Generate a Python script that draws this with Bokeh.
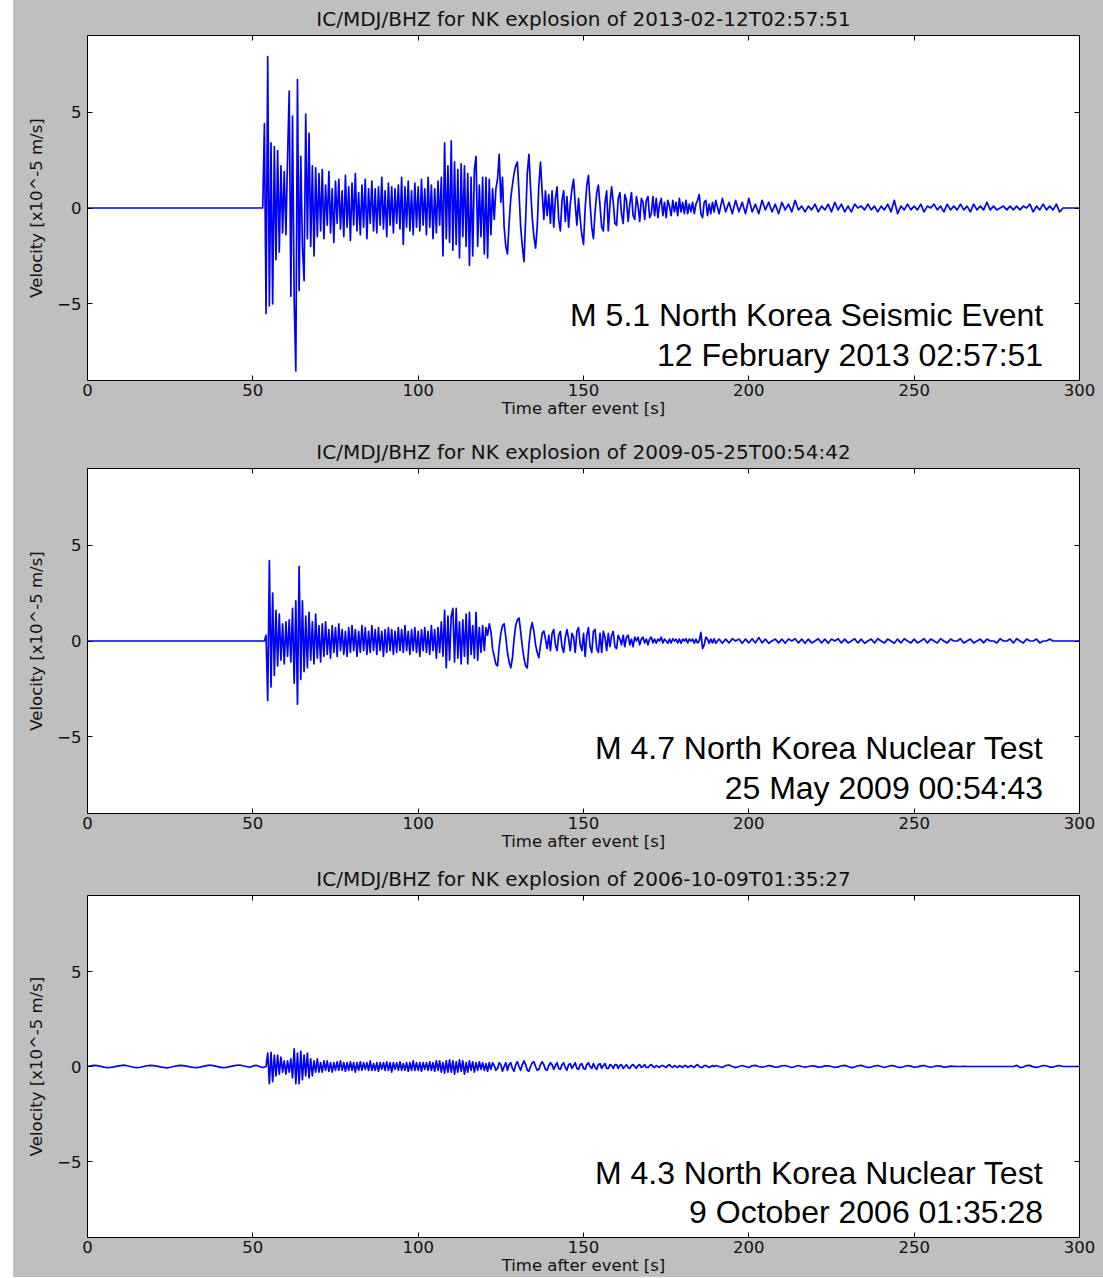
import numpy as np
from bokeh.plotting import figure
from bokeh.models import Range1d, LinearAxis, FixedTicker, Label, Spacer
from bokeh.layouts import row, column
from bokeh.embed import file_html
from bokeh.resources import INLINE

# ---------------- data (velocity, x10^-5 m/s) ----------------
X_TICKS = [0, 50, 100, 150, 200, 250, 300]
Y_TICKS = [-5, 0, 5]

TITLES = ["IC/MDJ/BHZ for NK explosion of 2013-02-12T02:57:51",
          "IC/MDJ/BHZ for NK explosion of 2009-05-25T00:54:42",
          "IC/MDJ/BHZ for NK explosion of 2006-10-09T01:35:27"]
NOTE_1 = ["M 5.1 North Korea Seismic Event", "M 4.7 North Korea Nuclear Test",
          "M 4.3 North Korea Nuclear Test"]
NOTE_2 = ["12 February 2013 02:57:51", "25 May 2009 00:54:43", "9 October 2006 01:35:28"]

# pre-event samples (0 s .. 50 s)
P1_PRE_DT = 5.0
P1_PRE = [0.0, 0.0, 0.0, 0.0, 0.0, 0.0, 0.0, 0.0, 0.0, 0.0]
P2_PRE_DT = 5.0
P2_PRE = [0.0, 0.0, 0.0, 0.0, 0.0, 0.0, 0.0, 0.0, 0.0, 0.0]
P3_PRE_DT = 1.0
P3_PRE = [0.0, 0.03, 0.06, 0.05, 0.01, -0.03, -0.06, -0.05, -0.02, 0.02,
          0.05, 0.07, 0.04, 0.0, -0.04, -0.06, -0.04, 0.0, 0.04, 0.06,
          0.05, 0.02, -0.02, -0.05, -0.07, -0.04, 0.0, 0.03, 0.06, 0.05,
          0.02, -0.02, -0.05, -0.06, -0.03, 0.01, 0.05, 0.07, 0.05, 0.01,
          -0.03, -0.06, -0.05, -0.01, 0.03, 0.06, 0.08, 0.04, 0.0, -0.04]

# main signal, 0.5 s samples from 50.0 s to 189.5 s (one row = 10 s)
P1_MAIN = [
    0.0, 0.0, 0.0, 0.0, 0.0, 0.0, 0.0, 4.4, -5.5, 7.9, -5.1, 3.4, -5.0, 3.2, -2.7, 3.0, -2.3, 2.2, -1.3, 1.9,
    -1.4, 2.6, 6.1, -4.6, 4.8, -4.8, -8.5, 6.7, -4.3, 2.7, -2.0, -3.8, 4.9, -1.6, 3.9, -2.0, 2.2, -2.5, 2.1, -1.5,
    1.8, -1.2, 2.0, -1.6, 1.2, -0.9, 1.9, -1.3, 1.0, -1.8, 1.4, -0.8, 1.5, -1.1, 0.9, -1.5, 1.7, -1.0, 1.1, -1.7,
    1.3, -0.9, 1.8, -1.2, 0.8, -1.4, 1.2, -1.0, 1.5, -1.6, 1.0, -0.8, 1.4, -1.2, 1.0, -1.3, 1.1, -0.9, 1.6, -1.1,
    0.9, -1.5, 1.3, -0.9, 1.1, -1.3, 1.0, -0.8, 1.2, -1.1, 1.6, -1.9, 1.1, -1.0, 1.4, -1.2, 0.9, -1.4, 1.3, -1.0,
    1.1, -1.2, 1.5, -0.9, 1.0, -1.4, 1.6, -1.0, 1.2, -1.6, 1.0, -1.3, 1.4, -0.9, 1.6, -2.5, 3.4, -1.6, 2.2, -1.8,
    3.5, -2.2, 2.4, -1.9, 2.0, -2.6, 2.3, -1.5, 2.2, -2.0, 1.8, -3.0, 1.6, -2.5, 2.0, 2.7, -2.0, 1.2, -1.5, 1.6,
    -2.4, 1.6, -2.6, 1.5, -1.4, 1.0, -0.6, 1.0, 1.5, 2.8, 0.3, 1.6, -1.0, -2.0, -2.4, -0.8, 0.5, 1.2, 1.8, 2.2,
    2.4, 0.8, -1.0, -2.0, -2.8, -0.6, 1.8, 2.8, 1.0, -0.5, -1.5, -2.1, -1.0, 1.2, 2.4, 0.8, -0.6, 0.9, -0.4, 0.7,
    -0.8, 0.9, -1.0, 0.5, 1.1, -0.6, -1.2, 0.4, 0.9, -0.7, 0.6, -1.0, 0.2, 1.0, 1.5, 0.2, -0.9, 0.5, -0.6, -1.4,
    -1.9, 0.0, 1.2, 1.7, 0.2, -1.0, -1.6, -0.2, 0.8, 1.2, 0.1, -1.0, -1.2, 0.3, 0.9, -1.2, 0.2, 1.1, 0.3, -0.8,
    -0.9, 0.5, 0.8, -0.3, -0.8, 0.7, 0.4, -0.7, 0.2, 0.8, -0.4, -0.6, 0.6, 0.1, -0.7, 0.5, 0.3, -0.6, 0.4, 0.6,
    -0.5, -0.3, 0.6, -0.4, 0.5, -0.5, 0.2, 0.5, -0.4, 0.3, -0.5, 0.4, 0.1, -0.4, 0.4, -0.2, 0.3, -0.4, 0.5, -0.2,
    0.3, -0.3, 0.4, -0.3, 0.2, -0.2, 0.3, -0.3, 0.2, 0.4, 0.7, -0.3, -0.5, 0.3, 0.4, -0.4, 0.2, -0.3, 0.3, -0.2,
]
P2_MAIN = [
    0.0, 0.0, 0.0, 0.0, 0.0, 0.0, 0.0, 0.0, 0.3, -3.1, 4.2, -2.4, 2.5, -1.8, 1.6, -1.3, 1.4, -1.0, 0.9, -1.2,
    1.0, -0.8, 1.1, -1.1, 1.7, -2.2, 2.1, -3.3, 3.9, -2.0, 2.1, -1.6, 1.3, -1.4, 1.5, -1.0, 1.0, -1.2, 1.4, -0.9,
    0.8, -1.1, 0.9, -0.8, 1.0, -0.7, 0.6, -0.9, 0.8, -0.6, 0.7, -0.8, 0.9, -0.5, 0.6, -0.7, 0.5, -0.8, 0.7, -0.6,
    0.8, -0.5, 0.6, -0.8, 0.5, -0.6, 0.8, -0.5, 0.7, -0.7, 0.5, -0.6, 0.8, -0.5, 0.6, -0.7, 0.7, -0.5, 0.5, -0.8,
    0.6, -0.6, 0.7, -0.5, 0.6, -0.7, 0.5, -0.6, 0.7, -0.5, 0.6, -0.6, 0.8, -0.5, 0.5, -0.7, 0.6, -0.5, 0.7, -0.6,
    0.5, -0.8, 0.6, -0.5, 0.7, -0.6, 0.5, -0.7, 0.8, -0.5, 0.6, -0.9, 0.7, -0.6, 1.0, -0.8, 1.6, -1.4, 1.3, -1.0,
    1.3, 1.7, -1.1, 1.7, -0.9, 1.0, -1.2, 1.1, -0.8, 1.4, -1.2, 1.5, -0.7, 0.8, -0.9, 1.5, -1.0, 0.7, -0.6, 0.8,
    -0.5, 0.7, 0.3, 0.9, 0.5, -0.4, -0.8, -1.2, -1.3, -0.3, 0.4, 0.8, 0.9, 0.2, -0.6, -1.1, -1.4, -0.9, 0.1, 0.8,
    1.1, 1.2, 0.5, -0.3, -0.9, -1.3, -1.4, -0.2, 0.6, 0.96, 0.5, -0.2, -0.6, -0.87, -0.2, 0.4, 0.52, 0.1, -0.4, 0.3,
    -0.5, 0.4, 0.6, -0.2, -0.5, 0.3, 0.5, -0.3, -0.6, 0.2, 0.6, 0.1, -0.5, 0.4, 0.2, -0.6, 0.5, 0.7, -0.2, -0.5,
    0.4, -0.8, 0.3, 0.7, -0.3, -0.6, 0.5, 0.6, -0.4, -0.6, 0.4, -0.6, 0.5, 0.2, -0.5, 0.4, -0.3, 0.3, 0.5, -0.3,
    -0.4, 0.3, 0.1, -0.2, 0.3, -0.3, 0.2, 0.3, -0.2, 0.1, -0.3, 0.2, 0.0, 0.2, -0.2, 0.1, 0.2, -0.1, 0.1, -0.2,
    0.1, 0.2, -0.1, 0.1, -0.12, 0.1, 0.0, 0.2, -0.1, 0.1, 0.0, -0.12, 0.1, -0.1, 0.12, 0.0, 0.1, -0.1, 0.1, -0.12,
    0.1, 0.0, 0.12, -0.1, 0.1, 0.0, 0.1, -0.12, 0.1, -0.1, 0.0, 0.45, -0.4, -0.2, 0.2, 0.1, -0.12, 0.1, -0.1, 0.12,
]
P3_MAIN = [
    0.02, 0.05, 0.06, 0.04, 0.0, -0.03, -0.05, -0.03, 0.0, 0.7, -0.9, 0.75, -0.8, 0.6, -0.5, 0.6, -0.4, 0.5, -0.3, 0.3,
    -0.4, 0.3, -0.3, 0.4, -0.6, 0.93, -0.9, 0.7, -0.9, 0.8, -0.7, 0.6, -0.5, 0.7, -0.6, 0.4, -0.5, 0.3, -0.3, 0.4,
    -0.3, 0.2, -0.3, 0.3, -0.2, 0.3, -0.25, 0.2, -0.3, 0.2, -0.2, 0.25, -0.2, 0.3, -0.2, 0.2, -0.25, 0.2, -0.2, 0.25,
    -0.2, 0.2, -0.3, 0.2, -0.2, 0.25, -0.2, 0.2, -0.15, 0.2, -0.2, 0.3, -0.2, 0.15, -0.2, 0.2, -0.25, 0.2, -0.15, 0.2,
    -0.2, 0.25, -0.2, 0.2, -0.3, 0.2, -0.15, 0.2, -0.2, 0.25, -0.2, 0.15, -0.2, 0.2, -0.25, 0.2, -0.2, 0.3, -0.2, 0.2,
    -0.2, 0.2, -0.25, 0.2, -0.15, 0.2, -0.2, 0.25, -0.2, 0.2, -0.25, 0.3, -0.2, 0.3, -0.3, 0.2, -0.35, 0.3, -0.3, 0.35,
    -0.3, 0.3, -0.4, 0.25, -0.3, 0.35, -0.25, 0.3, -0.4, 0.2, -0.3, 0.3, -0.2, 0.25, -0.3, 0.2, -0.2, 0.25, -0.15, 0.2,
    -0.2, 0.15, -0.25, 0.2, -0.15, 0.2, 0.05, -0.2, -0.1, 0.2, 0.1, -0.25, 0.0, 0.2, -0.2, 0.1, 0.2, -0.1, -0.25, 0.1,
    0.25, 0.0, -0.2, 0.1, 0.3, 0.1, -0.2, -0.25, 0.0, 0.2, 0.25, 0.0, -0.2, -0.15, 0.1, 0.25, 0.1, -0.15, -0.2, 0.05,
    0.2, 0.1, -0.15, 0.05, 0.2, -0.1, -0.15, 0.1, 0.2, -0.05, -0.2, 0.1, 0.15, -0.1, 0.05, 0.2, -0.1, -0.15, 0.1, 0.15,
    -0.1, -0.15, 0.1, 0.2, 0.0, -0.1, 0.15, -0.05, -0.15, 0.1, 0.15, -0.1, 0.05, 0.15, -0.1, -0.1, 0.1, 0.05, -0.1, 0.1,
    0.1, -0.1, 0.05, 0.1, -0.1, 0.0, 0.1, -0.05, -0.1, 0.05, 0.1, 0.0, -0.1, 0.05, 0.1, -0.05, 0.0, 0.1, -0.05, -0.05,
    0.05, 0.1, 0.0, -0.05, 0.05, 0.0, -0.05, 0.05, 0.05, 0.0, -0.05, 0.05, 0.1, 0.0, -0.05, 0.05, 0.0, -0.05, 0.05, 0.0,
    -0.05, 0.05, 0.05, -0.05, 0.0, 0.05, 0.0, -0.05, 0.05, 0.1, 0.0, -0.05, -0.05, 0.05, 0.05, 0.0, -0.05, 0.0, 0.05, 0.0,
]

# coda tail, 1 s samples from 190 s to 300 s
P1_TAIL = [
    0.4, -0.3, 0.5, -0.2, 0.3, -0.3, 0.4, -0.2, 0.3, -0.3,
    0.5, -0.2, 0.2, -0.3, 0.4, -0.1, 0.3, -0.2, 0.2, -0.3,
    0.3, -0.1, 0.2, -0.2, 0.4, -0.1, 0.1, -0.2, 0.1, -0.1,
    0.2, -0.2, 0.1, -0.1, 0.2, -0.2, 0.3, -0.1, 0.2, -0.2,
    0.1, -0.2, 0.2, 0.0, 0.1, -0.1, 0.2, -0.1, 0.1, -0.2,
    0.1, -0.1, 0.2, -0.2, 0.4, -0.3, 0.1, -0.1, 0.2, -0.1,
    0.1, -0.1, 0.2, -0.2, 0.1, 0.0, 0.2, -0.1, 0.1, -0.2,
    0.2, -0.1, 0.1, -0.1, 0.2, -0.1, 0.1, -0.2, 0.2, -0.1,
    0.1, -0.1, 0.3, -0.1, 0.1, -0.1, 0.0, 0.1, -0.1, 0.1,
    -0.1, 0.1, -0.1, 0.1, 0.0, 0.2, -0.2, 0.1, -0.1, 0.2,
    -0.1, 0.1, -0.1, 0.2, -0.2, 0.0, 0.0, 0.0, 0.0, 0.0,
    0.0,
]
P2_TAIL = [
    -0.12, 0.1, -0.12, 0.1, -0.1, 0.12, 0.0, 0.1, -0.12, 0.1,
    -0.1, 0.12, -0.1, 0.18, -0.1, 0.1, -0.12, 0.0, 0.1, -0.1,
    0.1, -0.12, 0.1, 0.0, 0.12, -0.1, 0.1, -0.12, 0.1, -0.1,
    0.0, 0.12, -0.1, 0.1, -0.12, 0.1, 0.0, 0.12, -0.1, 0.1,
    -0.1, 0.0, 0.12, -0.1, 0.1, -0.12, 0.0, 0.1, -0.1, 0.12,
    0.0, -0.1, 0.1, 0.0, -0.12, 0.1, -0.1, 0.12, 0.0, -0.1,
    0.1, -0.1, 0.0, 0.12, -0.1, 0.1, 0.0, -0.1, 0.12, 0.0,
    -0.1, 0.1, 0.0, 0.0, 0.12, -0.1, 0.0, 0.1, -0.1, 0.0,
    0.1, -0.1, 0.1, 0.0, 0.0, -0.1, 0.12, 0.0, 0.0, 0.1,
    -0.1, 0.12, 0.0, -0.1, 0.1, 0.0, 0.0, 0.1, -0.1, 0.0,
    0.0, 0.1, 0.0, 0.0, 0.0, 0.0, 0.0, 0.0, 0.0, 0.0,
    0.0,
]
P3_TAIL = [
    0.05, 0.0, -0.05, 0.05, 0.08, 0.0, -0.06, 0.0, 0.05, 0.0,
    -0.05, 0.04, 0.06, 0.0, -0.04, 0.0, 0.05, 0.02, -0.04, -0.02,
    0.04, 0.05, 0.0, -0.05, 0.0, 0.05, 0.0, -0.04, 0.0, 0.04,
    0.02, -0.03, -0.02, 0.03, 0.04, 0.0, -0.05, -0.02, 0.04, 0.06,
    0.0, -0.06, -0.03, 0.04, 0.06, 0.0, -0.05, -0.03, 0.03, 0.05,
    0.0, -0.05, 0.0, 0.05, 0.03, -0.03, -0.05, 0.0, 0.05, 0.02,
    -0.04, -0.02, 0.03, 0.05, 0.0, -0.04, 0.0, 0.04, 0.02, -0.03,
    -0.02, 0.02, 0.01, 0.0, 0.0, 0.01, 0.0, 0.0, 0.0, 0.0,
    0.0, 0.0, 0.0, 0.0, 0.0, 0.0, 0.0, 0.0, 0.0, 0.0,
    0.0, 0.06, -0.05, -0.03, 0.05, 0.06, -0.02, -0.05, 0.0, 0.05,
    0.04, -0.03, -0.03, 0.03, 0.05, 0.0, 0.0, 0.0, 0.0, 0.0,
    0.0,
]

MAIN_START, MAIN_DT = 50.0, 0.5
TAIL_START, TAIL_DT = 190.0, 1.0


def trace(pre, pre_dt, main, tail):
    t = np.concatenate([np.arange(len(pre)) * pre_dt,
                        MAIN_START + MAIN_DT * np.arange(len(main)),
                        TAIL_START + TAIL_DT * np.arange(len(tail))])
    v = np.concatenate([pre, main, tail])
    return t, v


TRACES = [trace(P1_PRE, P1_PRE_DT, P1_MAIN, P1_TAIL),
          trace(P2_PRE, P2_PRE_DT, P2_MAIN, P2_TAIL),
          trace(P3_PRE, P3_PRE_DT, P3_MAIN, P3_TAIL)]

GRAY = "#bfbfbf"
FONT = "DejaVu Sans"
INK = "#111111"


def mirror_axis(ticks):
    return LinearAxis(ticker=FixedTicker(ticks=ticks), axis_line_color=None,
                      major_tick_in=5, major_tick_out=0, minor_tick_line_color=None,
                      major_tick_line_color="black", major_label_text_font_size="1px",
                      major_label_text_color=None, major_label_standoff=0)


def panel(i, height, top, bottom):
    p = figure(width=1090, height=height, x_range=Range1d(0, 300), y_range=Range1d(-9, 9),
               output_backend="svg", toolbar_location=None,
               min_border_left=74, min_border_right=24, min_border_top=top, min_border_bottom=bottom,
               background_fill_color="white", border_fill_color=GRAY,
               outline_line_color="black", outline_line_width=1, title=TITLES[i])
    p.title.align = "center"
    p.title.text_font = FONT
    p.title.text_font_size = "20px"
    p.title.text_font_style = "normal"
    p.title.text_color = INK
    p.title.standoff = 9
    p.grid.visible = False

    for ax in (p.xaxis[0], p.yaxis[0]):
        ax.axis_line_color = None
        ax.major_tick_in = 5
        ax.major_tick_out = 0
        ax.major_tick_line_color = "black"
        ax.minor_tick_line_color = None
        ax.major_label_text_font = FONT
        ax.major_label_text_font_size = "16.5px"
        ax.major_label_text_color = INK
        ax.axis_label_text_font = FONT
        ax.axis_label_text_font_size = "16.5px"
        ax.axis_label_text_font_style = "normal"
        ax.axis_label_text_color = INK

    p.xaxis.ticker = FixedTicker(ticks=X_TICKS)
    p.xaxis.axis_label = "Time after event [s]"
    p.xaxis.major_label_standoff = 3
    p.xaxis.axis_label_standoff = 0

    p.yaxis.ticker = FixedTicker(ticks=Y_TICKS)
    p.yaxis.major_label_overrides = {-5: "\u22125"}
    p.yaxis.axis_label = "Velocity [x10^-5 m/s]"
    p.yaxis.major_label_standoff = 6
    p.yaxis.axis_label_standoff = 8

    p.add_layout(mirror_axis(X_TICKS), "above")
    p.add_layout(mirror_axis(Y_TICKS), "right")

    t, v = TRACES[i]
    p.line(t, v, line_color="#0000ff", line_width=1.7, line_join="round")

    for txt, yy in ((NOTE_1[i], -5.6), (NOTE_2[i], -7.65)):
        p.add_layout(Label(x=289, y=yy, text=txt, text_align="right", text_baseline="alphabetic",
                           text_font="Liberation Sans", text_font_size="32px", text_color="black"))
    return p


p1 = panel(0, 426, 35, 46)
p2 = panel(1, 434, 42, 47)
p3 = panel(2, 417, 34, 39)

panels = column(p1, p2, p3, spacing=0, styles={"background-color": GRAY})
layout = row(Spacer(width=13, height=1277), panels, spacing=0)

open("out.html", "w").write(file_html(layout, INLINE))
